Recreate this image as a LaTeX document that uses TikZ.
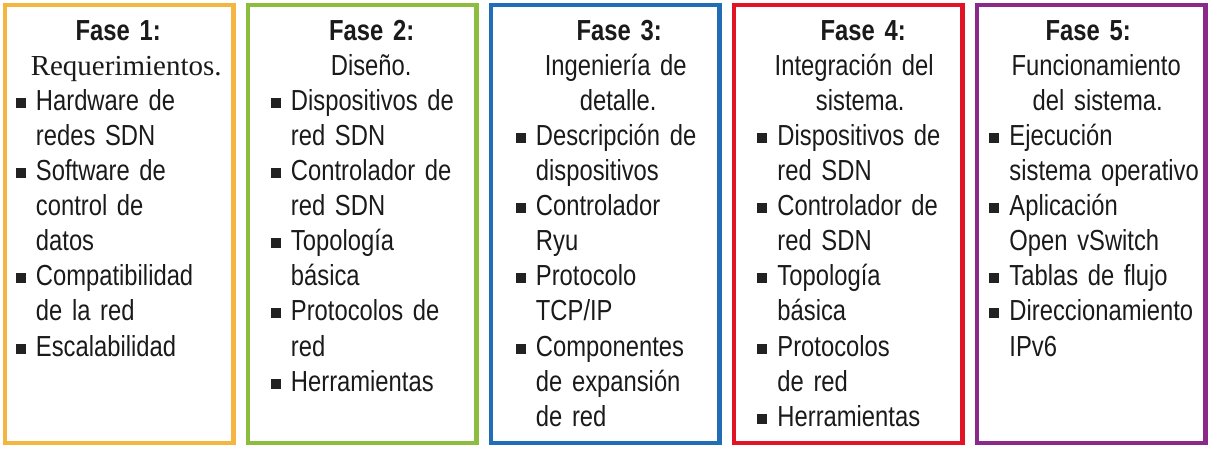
\documentclass[tikz,border=0pt]{standalone}
\usepackage{fontspec}
\setmainfont{Liberation Sans}[FakeStretch=0.82]
\newfontfamily\serifa{Liberation Serif}
\usetikzlibrary{positioning}

\definecolor{naranja}{RGB}{244,182,64}
\definecolor{verde}{RGB}{141,189,62}
\definecolor{azul}{RGB}{34,110,182}
\definecolor{rojo}{RGB}{225,20,38}
\definecolor{morado}{RGB}{140,40,136}
\definecolor{vineta}{RGB}{34,34,34}
\definecolor{tinta}{RGB}{26,26,26}

% titulos centrados, con un corrimiento opcional
\newcommand{\titulo}[2][0pt]{{\centering\rule{0pt}{35pt}\hspace*{#1}\hspace*{#1}\textbf{#2}\par}}
\newcommand{\subtitulo}[2][0pt]{{\centering\hspace*{#1}\hspace*{#1}#2\par}}
\newcommand{\sangria}[1]{\leftskip=#1\relax\rightskip=-20pt plus 1fil\relax}
\newcommand{\elem}{\par\noindent\llap{\raisebox{2.5pt}{\textcolor{vineta}{\rule{10pt}{10pt}}}\hspace{10pt}}}

\begin{document}
\begin{tikzpicture}[node distance=14.5pt,
    fase/.style={draw=#1, line width=4.5pt, minimum width=228.5pt, minimum height=438pt, outer sep=0pt, inner sep=0pt},
    texto/.style={inner sep=0pt, text width=228.5pt, text=tinta, font=\fontsize{29pt}{35.1pt}\selectfont}]

    \useasboundingbox (0,0) rectangle (1215pt,450pt);

    \node[fase=naranja] (f1) at (119pt,226pt) {};
    \node[fase=verde] (f2) [right=of f1] {};
    \node[fase=azul] (f3) [right=of f2] {};
    \node[fase=rojo] (f4) [right=of f3] {};
    \node[fase=morado] (f5) [right=of f4] {};

    \node[texto, below right=0pt of f1.north west] (t1) {\titulo[-1pt]{Fase 1:}\subtitulo[7pt]{\serifa Requerimientos.}\sangria{31pt}
        \elem Hardware de\newline redes SDN
        \elem Software de\newline control de\newline datos
        \elem Compatibilidad\newline de la red
        \elem Escalabilidad\par};
    \node[texto, below right=0pt of f2.north west] (t2) {\titulo[9.5pt]{Fase 2:}\subtitulo[9pt]{Diseño.}\sangria{43pt}
        \elem Dispositivos de\newline red SDN
        \elem Controlador de\newline red SDN
        \elem Topología\newline básica
        \elem Protocolos de\newline red
        \elem Herramientas\par};
    \node[texto, below right=0pt of f3.north west] (t3) {\titulo[14pt]{Fase 3:}\subtitulo[10.5pt]{Ingeniería de}\subtitulo[13pt]{detalle.}\sangria{45pt}
        \elem Descripción de\newline dispositivos
        \elem Controlador\newline Ryu
        \elem Protocolo\newline TCP/IP
        \elem Componentes\newline de expansión\newline de red\par};
    \node[texto, below right=0pt of f4.north west] (t4) {\titulo[15pt]{Fase 4:}\subtitulo[6pt]{Integración del}\subtitulo[12pt]{sistema.}\sangria{43.5pt}
        \elem Dispositivos de\newline red SDN
        \elem Controlador de\newline red SDN
        \elem Topología\newline básica
        \elem Protocolos\newline de red
        \elem Herramientas\par};
    \node[texto, below right=0pt of f5.north west] (t5) {\titulo[-3pt]{Fase 5:}\subtitulo[5pt]{Funcionamiento}\subtitulo[6.5pt]{del sistema.}\sangria{32.5pt}
        \elem Ejecución\newline sistema operativo
        \elem Aplicación\newline Open vSwitch
        \elem Tablas de flujo
        \elem Direccionamiento\newline IPv6\par};

\end{tikzpicture}
\end{document}
